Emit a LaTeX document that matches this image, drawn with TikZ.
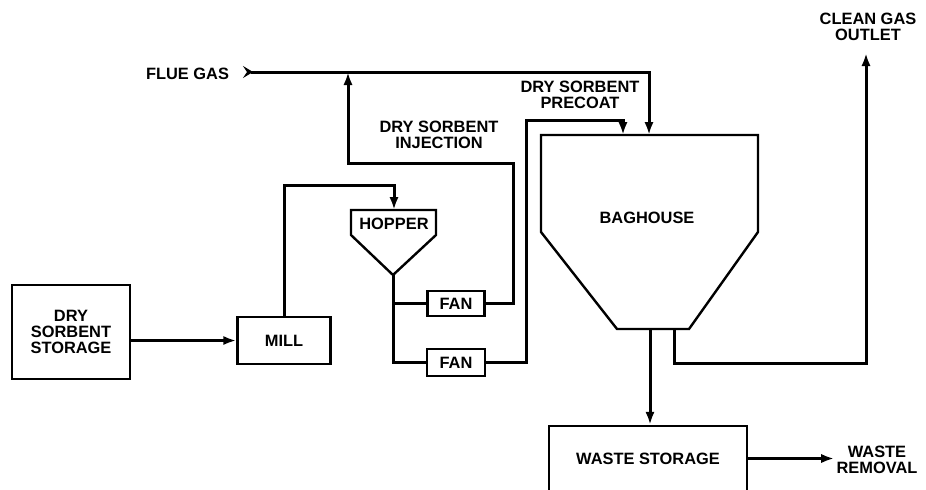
\documentclass[tikz,border=0pt]{standalone}
\usepackage{fontspec}
\setmainfont{Liberation Sans}
\usepackage{tikz}
\usetikzlibrary{arrows.meta, positioning, calc}
\tikzset{>=Latex}
\tikzset{
  box/.style={draw, line width=1.2pt, inner sep=0pt, align=center},
  label/.style={align=center, inner sep=1pt},
  flow/.style={line width=1.5pt}
}

\begin{document}
\begin{tikzpicture}[x=0.5pt, y=-0.5pt, >={Latex[length=6.5pt, width=4.6pt]},
    font=\fontsize{8.2}{8}\selectfont\bfseries]

            \useasboundingbox (0,0) rectangle (926,489);

            % Kästen links
            \node[box, minimum width=59pt, minimum height=47pt] (storage) at (71,332) {DRY\\SORBENT\\STORAGE};
            \node[box, minimum width=46.5pt, minimum height=23.5pt] (mill) at (284,340.5) {MILL};

            % Hopper (Trichter)
            \draw[line width=1.2pt] (351,235) -- (351,210) -- (436,210) -- (436,235) -- (393,275) -- cycle;
            \node (hopper) at (394,224) {HOPPER};
            \coordinate (hoptop) at (394,210);
            \coordinate (hoptip) at (393,275);

            % Gebläse
            \node[box, minimum width=28.5pt, minimum height=12.5pt] (fan1) at (456,303.5) {FAN};
            \node[box, minimum width=29pt, minimum height=13.5pt] (fan2) at (456,362.5) {FAN};

            % Baghouse
            \draw[line width=1.2pt] (541,232) -- (541,135) -- (758,135) -- (758,232) -- (689,329) -- (617,329) -- cycle;
            \node (baghouse) at (647,218) {BAGHOUSE};
            \coordinate (precoatin) at (623,135);
            \coordinate (fluein) at (649,135);
            \coordinate (dustout) at (650,329);
            \coordinate (gasout) at (674,329);

            % Abfall
            \node[box, minimum width=99pt, minimum height=32.5pt] (waste) at (648,458.5) {WASTE STORAGE};

            % Beschriftungen
            \node[label] (flue) at (187.5,74) {FLUE GAS};
            \node[label] (injection) at (439,135) {DRY SORBENT\\INJECTION};
            \node[label] (precoat) at (580,95) {DRY SORBENT\\PRECOAT};
            \node[label] (clean) at (868,27) {CLEAN GAS\\OUTLET};
            \node[label] (removal) at (877,460) {WASTE\\REMOVAL};
            \coordinate (fluestart) at (243,72);
            \coordinate (inj) at (348,72);
            \coordinate (cleanend) at (866,53);

            % Rauchgas
            \draw[flow, {Stealth[reversed, length=5pt, width=6pt, inset=2pt]}->] (fluestart) -| (fluein);

            % Sorbens-Leitungen
            \draw[flow, ->] (storage.east |- mill.west) -- (mill.west);
            \draw[flow, ->] (mill.north) -- ++(0,-130) -| (hoptop);
            \draw[flow] (hoptip) |- (fan2.west);
            \draw[flow] (hoptip |- fan1.west) -- (fan1.west);
            \draw[flow, ->] (fan1.east) -| ++(28,-140) -| (inj);
            \draw[flow, ->] (fan2.east) -| ++(40,-242) -| (precoatin);

            % Ausgänge
            \draw[flow, ->] (dustout) -- (dustout |- waste.north);
            \draw[flow, ->] (gasout) -- ++(0,34) -| (cleanend);
            \draw[flow, ->] (waste.east) -- (waste.east -| removal.west);

         \end{tikzpicture}
\end{document}
